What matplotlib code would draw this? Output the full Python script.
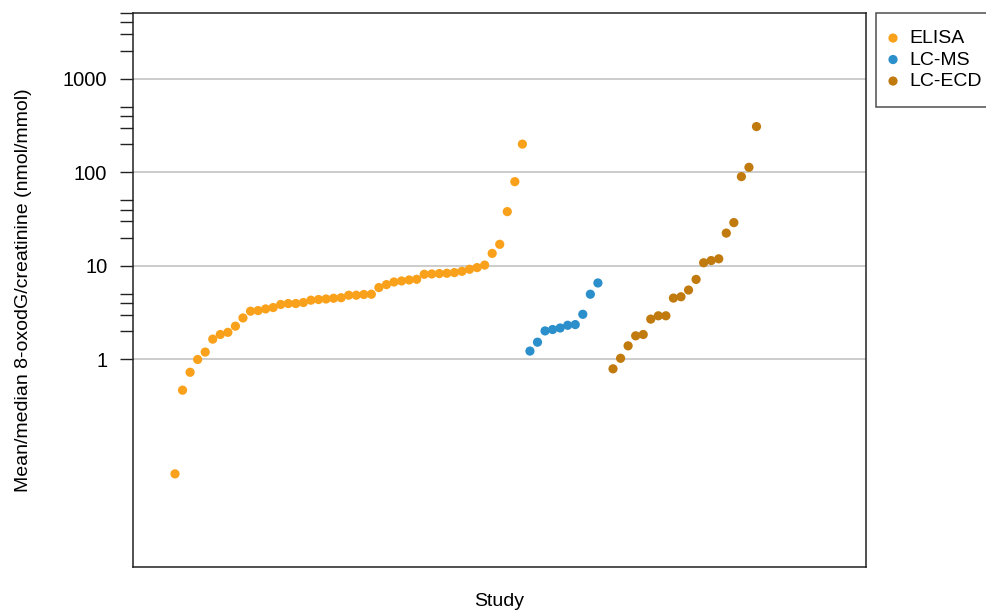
import numpy as np
import matplotlib
matplotlib.use("Agg")
import matplotlib.pyplot as plt
from matplotlib.ticker import FixedLocator, NullFormatter

plt.rcParams["font.family"] = ["Liberation Sans", "DejaVu Sans"]

# values (nmol/mmol), sorted within each method
elisa = [0.060, 0.47, 0.73, 1.00, 1.20, 1.65, 1.85, 1.95, 2.27, 2.78,
         3.28, 3.33, 3.47, 3.59, 3.87, 3.96, 3.96, 4.06, 4.30, 4.37,
         4.43, 4.51, 4.57, 4.86, 4.86, 4.95, 4.98, 5.87, 6.31, 6.73,
         6.90, 7.07, 7.19, 8.13, 8.20, 8.28, 8.34, 8.48, 8.75, 9.20,
         9.59, 10.2, 13.6, 17.0, 38.0, 79.4, 200.0]
lcms = [1.23, 1.53, 2.02, 2.09, 2.17, 2.32, 2.36, 3.04, 4.98, 6.57]
lcecd = [0.795, 1.03, 1.40, 1.79, 1.85, 2.70, 2.93, 2.93, 4.53, 4.68,
         5.52, 7.17, 10.8, 11.4, 11.9, 22.4, 29.0, 89.9, 113.0, 308.0]

methods = ["ELISA", "LC-MS", "LC-ECD"]
colors = ["#F9A11B", "#2A8FCB", "#C17A0E"]

major = [1, 10, 100, 1000]
minor = [2, 3, 4, 5, 20, 30, 40, 50, 200, 300, 400, 500, 2000, 3000, 4000, 5000]

fig = plt.figure(figsize=(9.86, 6.11), dpi=100)
ax = fig.add_axes([0.1349, 0.072, 0.8783 - 0.1349, 0.9787 - 0.072])

# study index: ELISA, LC-MS, one empty slot, LC-ECD
x_e = np.arange(1, len(elisa) + 1)
x_m = np.arange(len(elisa) + 1, len(elisa) + len(lcms) + 1)
x_c = np.arange(x_m[-1] + 2, x_m[-1] + 2 + len(lcecd))

for xs, ys, col, lab in zip((x_e, x_m, x_c), (elisa, lcms, lcecd), colors, methods):
    ax.scatter(xs, ys, s=44, color=col, edgecolors="none", label=lab, zorder=3)

ax.set_yscale("log")
ax.set_ylim(10 ** -2.217, 5000 * 1.006)
ax.set_xlim(-4.56, 92.5)

for v in major:
    ax.axhline(v, color="#BEBEBE", lw=1.1, zorder=1)

ax.yaxis.set_major_locator(FixedLocator(major))
ax.yaxis.set_minor_locator(FixedLocator(minor))
ax.yaxis.set_minor_formatter(NullFormatter())
ax.set_yticklabels(["1", "10", "100", "1000"])
ax.set_xticks([])
ax.tick_params(axis="y", which="both", length=9.5, width=1, direction="out",
               labelsize=14.5, pad=9, color="#222222")
for s in ax.spines.values():
    s.set_linewidth(1.1)
    s.set_color("#222222")

ax.set_ylabel("Mean/median 8-oxodG/creatinine (nmol/mmol)", fontsize=14, labelpad=22)
ax.set_xlabel("Study", fontsize=14, labelpad=19)

leg = fig.legend(loc="upper left", bbox_to_anchor=(876 / 986, 1 - 13 / 611),
                 fontsize=14, frameon=True, fancybox=False, borderpad=0.85,
                 handletextpad=0.8, handlelength=0.05, labelspacing=0.2,
                 borderaxespad=0)
leg.get_frame().set_edgecolor("#222222")
leg.get_frame().set_linewidth(1.1)

fig.savefig("out.png", dpi=100)
